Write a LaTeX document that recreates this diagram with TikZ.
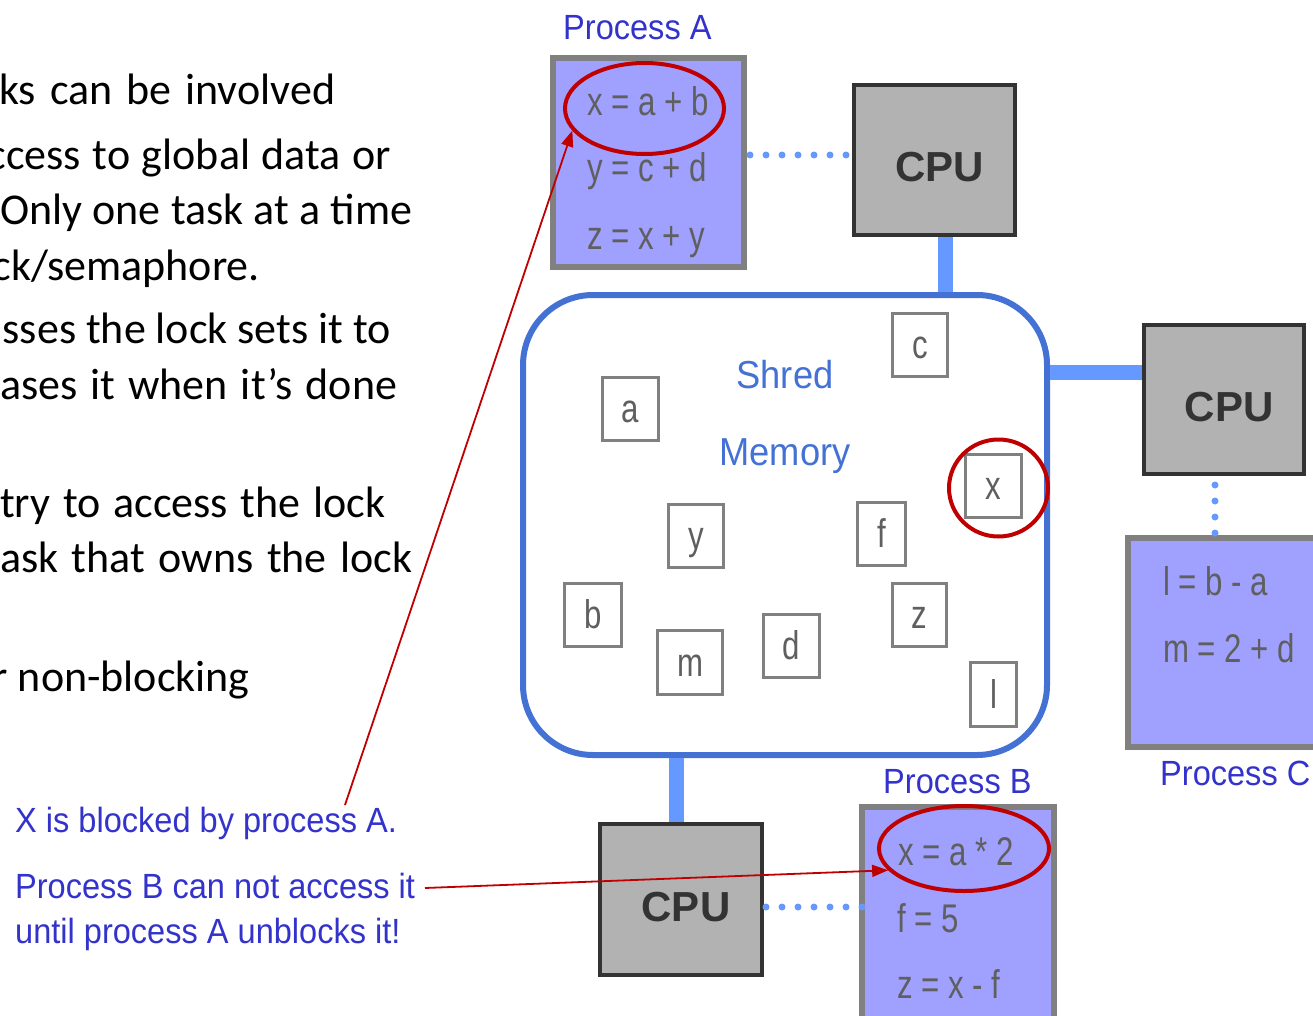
\documentclass[tikz,border=0pt]{standalone}
\usepackage{fontspec}
\setmainfont{Carlito}
\newfontfamily\codefont[FakeStretch=0.78]{Liberation Sans}
\newfontfamily\notefont[FakeStretch=0.93]{Liberation Sans}
\newfontfamily\cpufont{Liberation Sans}
\usetikzlibrary{arrows.meta,shapes.geometric}
\definecolor{notecol}{RGB}{51,51,204}
\definecolor{memcol}{RGB}{68,114,212}
\definecolor{buscol}{RGB}{102,153,255}
\definecolor{procfill}{RGB}{160,160,255}
\definecolor{procline}{RGB}{128,128,128}
\definecolor{cpufill}{RGB}{178,178,178}
\definecolor{cpuline}{RGB}{51,51,51}
\definecolor{codecol}{RGB}{95,95,95}
\definecolor{marker}{RGB}{192,0,0}
% a justified line of body text: width, then text
\newcommand{\justline}[2]{\makebox[#1][s]{#2}}
\begin{document}
\begin{tikzpicture}[x=1pt,y=-1pt,
  bullet/.style={anchor=base west,inner sep=0,font=\fontsize{44}{52}\selectfont},
  note/.style={anchor=base west,inner sep=0,text=notecol,font=\notefont\fontsize{35}{42}\selectfont},
  memlabel/.style={anchor=base,inner sep=0,text=memcol,font=\notefont\fontsize{39}{46}\selectfont},
  proc/.style={draw=procline,fill=procfill,line width=6pt,inner sep=0},
  code/.style={anchor=base west,inner sep=0,text=codecol,font=\codefont\fontsize{40}{48}\selectfont},
  cpubox/.style={draw=cpuline,fill=cpufill,line width=4pt,inner sep=0,text=cpuline,
    font=\cpufont\bfseries\fontsize{42}{50}\selectfont,text height=44pt,text depth=0pt},
  cell/.style={draw=procline,line width=3pt,inner sep=0,text=codecol,
    font=\codefont\fontsize{40}{48}\selectfont,text height=30pt,text depth=3pt},
  bus/.style={draw=buscol,line width=15pt},
  dots/.style={draw=buscol,line width=7pt,line cap=round,dash pattern=on 0pt off 16pt},
  ring/.style={draw=marker,line width=4pt,ellipse,inner sep=0},
  pointer/.style={draw=marker,line width=1.8pt,-{Triangle[length=16pt,width=12pt]}},
]
\path[fill=white,use as bounding box] (0,0) rectangle (1313,1016);

% slide text running in from the left
\node[bullet] (t1) at (-1,105) {\justline{336pt}{ks can be involved}};
\node[bullet] (t2) at (-12.6,170) {\justline{403.6pt}{ccess to global data or}};
\node[bullet] (t3) at (0,225) {\justline{412pt}{Only one task at a time}};
\node[bullet,anchor=base east] (t4) at (260,280) {ck/semaphore.};
\node[bullet,anchor=base east] (t5) at (391,343) {sses the lock sets it to};
\node[bullet] (t6) at (0,399) {\justline{397pt}{ases it when it’s done}};
\node[bullet] (t7) at (0,517) {\justline{385pt}{try to access the lock}};
\node[bullet] (t8) at (0,572) {\justline{412pt}{ask that owns the lock}};
\node[bullet,anchor=base east] (t9) at (250,691) {r non-blocking};

% notes
\node[note] (noteA) at (15,832) {X is blocked by process A.};
\node[note] (noteB) at (15,898) {Process B can not access it};
\node[note] (noteC) at (15,943) {until process A unblocks it!};

% shared memory and its variables
\node[draw=memcol,line width=6pt,rounded corners=70pt,minimum width=524pt,
      minimum height=460pt,inner sep=0] (mem) at (785,525) {};
\node[memlabel] (shred) at (785,388) {Shred};
\node[memlabel] (memory) at (785,465) {Memory};

\node[cell,minimum width=56pt,minimum height=63pt] (va) at (630.5,409) {a};
\node[cell,minimum width=55pt,minimum height=63pt] (vc) at (920,345) {c};
\node[cell,minimum width=56pt,minimum height=63pt] (vx) at (993.5,486) {x};
\node[cell,minimum width=55pt,minimum height=63pt] (vy) at (696,536) {y};
\node[cell,minimum width=48pt,minimum height=63pt] (vf) at (881.5,534) {f};
\node[cell,minimum width=57pt,minimum height=63pt] (vb) at (593,615) {b};
\node[cell,minimum width=65pt,minimum height=64pt] (vm) at (690,662.5) {m};
\node[cell,minimum width=56pt,minimum height=63pt] (vd) at (791.5,646) {d};
\node[cell,minimum width=54pt,minimum height=63pt] (vz) at (919.5,615) {z};
\node[cell,minimum width=46pt,minimum height=64pt] (vl) at (993.5,694.5) {l};

% CPUs and buses
\node[cpubox,minimum width=161pt,minimum height=150pt] (cpuA) at (934.5,160) {\hspace*{10pt}CPU};
\node[cpubox,minimum width=160pt,minimum height=149pt] (cpuC) at (1224,399.5) {\hspace*{10pt}CPU};
\node[cpubox,minimum width=162pt,minimum height=151pt] (cpuB) at (681,899.5) {\hspace*{10pt}CPU};

\draw[bus] ([xshift=11pt]cpuA.south) -- ([xshift=11pt]cpuA.south |- mem.north);
\draw[bus] ([yshift=27pt]cpuC.west) -- ([yshift=27pt]cpuC.west -| mem.east);
\draw[bus] ([xshift=-4.5pt]cpuB.north) -- ([xshift=-4.5pt]cpuB.north |- mem.south);

% processes
\node[proc,minimum width=191pt,minimum height=209pt] (procA) at (648.5,162.5) {};
\node[code] (a1) at (587,116) {x = a + b};
\node[code] (a2) at (587,182) {y = c + d};
\node[code] (a3) at (587,249) {z = x + y};
\node[note] (labA) at (563,40) {Process A};

\node[proc,minimum width=192pt,minimum height=240pt] (procB) at (958,927) {};
\node[code] (b1) at (898,865) {x = a * 2};
\node[code] (b2) at (897,932) {f = 5};
\node[code] (b3) at (897,998) {z = x - f};
\node[note] (labB) at (883,793) {Process B};

\node[proc,minimum width=210pt,minimum height=209pt] (procC) at (1233,642.5) {};
\node[code] (c1) at (1163,595) {l = b - a};
\node[code] (c2) at (1163,662) {m = 2 + d};
\node[note] (labC) at (1160,785) {Process C};

% links between processes and CPUs
\draw[dots,shorten <=3pt] ([yshift=7.5pt]procA.east) -- ([yshift=7.5pt]procA.east -| cpuA.west);
\draw[dots,shorten <=9pt] ([xshift=-9pt]cpuC.south) -- ([xshift=-9pt]cpuC.south |- procC.north);
\draw[dots,shorten <=2pt,shorten >=-4pt] ([yshift=-7.5pt]cpuB.east) -- ([yshift=-7.5pt]cpuB.east -| procB.west);

% highlighting of the conflicting access to x
\node[ring,minimum width=159pt,minimum height=91pt] (ringA) at (644.5,108.5) {};
\node[ring,minimum width=170pt,minimum height=85pt] (ringB) at (964,848.5) {};
\node[ring,minimum width=99pt,minimum height=97pt] (ringX) at (998.5,488) {};

\coordinate (tailA) at (345,805);
\coordinate (tailB) at (425,888);
\draw[pointer] (tailA) -- (ringA.197);
\draw[pointer] (tailB) -- (ringB.196);
\end{tikzpicture}
\end{document}
